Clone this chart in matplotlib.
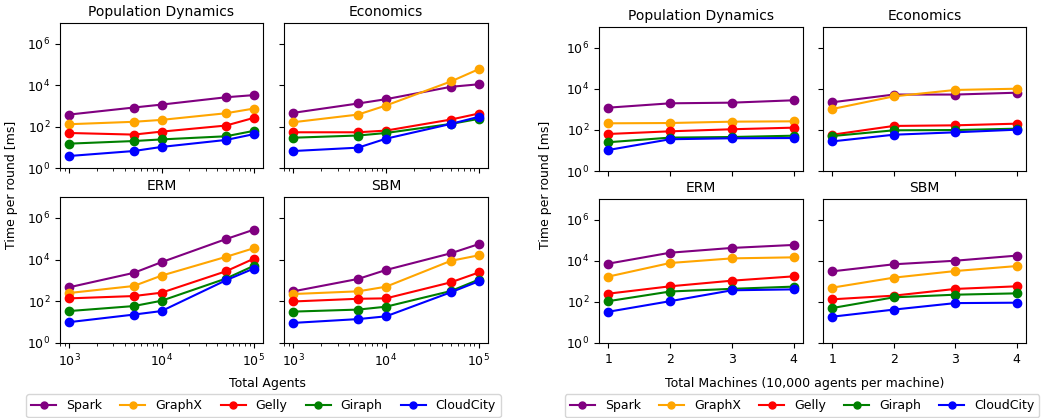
import matplotlib
matplotlib.use("Agg")
import matplotlib.pyplot as plt
from matplotlib.lines import Line2D

systems = ["Spark", "GraphX", "Gelly", "Giraph", "CloudCity"]
colors = ["purple", "orange", "red", "green", "blue"]

agents = [1e3, 5e3, 1e4, 5e4, 1e5]
machines = [1, 2, 3, 4]

# time per round [ms], order: Spark, GraphX, Gelly, Giraph, CloudCity
agents_popdyn = [
    [380, 830, 1150, 2600, 3300],
    [130, 170, 210, 440, 740],
    [49, 41, 57, 112, 263],
    [15, 20, 24, 34, 62],
    [3.8, 6.6, 10.4, 22.6, 43],
]
agents_econ = [
    [460, 1300, 2100, 8300, 11000],
    [162, 380, 1040, 15000, 59000],
    [53, 53, 64, 218, 425],
    [29, 37, 49, 134, 235],
    [6.6, 9.6, 26, 134, 295],
]
agents_erm = [
    [470, 2300, 7500, 96000, 270000],
    [250, 540, 1700, 13500, 35000],
    [138, 178, 258, 2750, 11000],
    [34, 59, 106, 1230, 5000],
    [10, 23, 34, 1020, 3700],
]
agents_sbm = [
    [300, 1180, 3170, 20000, 55000],
    [223, 300, 500, 8700, 16000],
    [98, 132, 138, 810, 2400],
    [32, 40, 55, 310, 1090],
    [9.2, 14, 19, 270, 910],
]

machines_popdyn = [
    [1200, 1950, 2100, 2740],
    [208, 215, 250, 260],
    [63, 85, 107, 128],
    [25, 42, 45, 52],
    [10.5, 35, 39, 40],
]
machines_econ = [
    [2190, 5200, 5200, 6400],
    [1030, 4250, 8700, 10000],
    [58, 155, 166, 200],
    [50, 95, 98, 114],
    [27.5, 58, 76, 102],
]
machines_erm = [
    [7200, 24500, 41800, 58500],
    [1690, 7740, 13000, 14600],
    [250, 570, 1070, 1740],
    [108, 318, 430, 550],
    [33, 108, 365, 405],
]
machines_sbm = [
    [3040, 6700, 10000, 17700],
    [490, 1500, 3150, 5500],
    [133, 200, 425, 570],
    [50, 166, 223, 259],
    [19, 42, 87, 91],
]

titles = ["Population Dynamics", "Economics", "ERM", "SBM"]

W, H = 1047, 418
fig = plt.figure(figsize=(W / 100, H / 100), dpi=100)


def add_ax(x0, x1, y0, y1):
    return fig.add_axes([x0 / W, 1 - y1 / H, (x1 - x0) / W, (y1 - y0) / H])


def draw_group(xs, datasets, cols, rows, logx, xlabel, ylabel_x, label_cx, legend_cx, colsp):
    for i, data in enumerate(datasets):
        r, c = divmod(i, 2)
        ax = add_ax(cols[c][0], cols[c][1], rows[r][0], rows[r][1])
        for vals, col in zip(data, colors):
            ax.plot(xs, vals, "-o", color=col, lw=1.5, ms=6)
        ax.set_yscale("log")
        ax.set_ylim(1, 1e7)
        ax.set_yticks([1, 1e2, 1e4, 1e6])
        ax.yaxis.set_minor_locator(matplotlib.ticker.NullLocator())
        if logx:
            ax.set_xscale("log")
        else:
            ax.set_xticks(xs)
        ax.set_title(titles[i], fontsize=10, pad=5)
        ax.tick_params(labelsize=9)
        if c == 1:
            ax.tick_params(labelleft=False)
        if r == 0:
            ax.tick_params(labelbottom=False)
    fig.text(ylabel_x / W, 1 - 185 / H, "Time per round [ms]", rotation=90,
             ha="center", va="center", fontsize=9)
    fig.text(label_cx / W, 1 - 383 / H, xlabel, ha="center", va="center", fontsize=9)
    handles = [Line2D([], [], color=c, marker="o", lw=1.5, ms=5) for c in colors]
    fig.legend(handles, systems, ncol=5, loc="center", fontsize=9,
               bbox_to_anchor=(legend_cx / W, 1 - 405.5 / H),
               handlelength=2.0, columnspacing=colsp, borderaxespad=0)


draw_group(agents, [agents_popdyn, agents_econ, agents_erm, agents_sbm],
           [(60, 263), (284, 488)], [(23, 168), (197, 343)], True,
           "Total Agents", 12, 267, 263.5, 1.45)
draw_group(machines, [machines_popdyn, machines_econ, machines_erm, machines_sbm],
           [(599, 803), (823, 1026)], [(27, 171), (199, 343)], False,
           "Total Machines (10,000 agents per machine)", 545, 805, 802, 1.45)

fig.savefig("out.png", dpi=100)
